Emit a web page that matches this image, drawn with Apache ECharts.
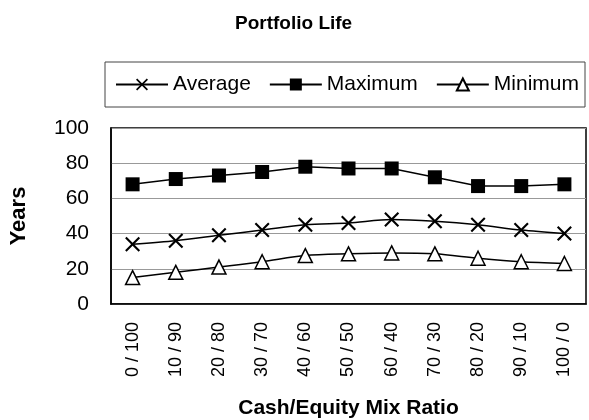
<!DOCTYPE html>
<html>
<head>
<meta charset="utf-8">
<script src="https://cdn.jsdelivr.net/npm/echarts@6/dist/echarts.min.js"></script>
<style>
  html, body { margin: 0; padding: 0; background: #fff; }
  #main { width: 589px; height: 420px; }
</style>
</head>
<body>
<div id="main"></div>
<script>
// values
var categories = ['0 / 100', '10 / 90', '20 / 80', '30 / 70', '40 / 60', '50 / 50',
                  '60 / 40', '70 / 30', '80 / 20', '90 / 10', '100 / 0'];
var average = [34, 36, 39, 42, 45, 46, 48, 47, 45, 42, 40];
var maximum = [68, 71, 73, 75, 78, 77, 77, 72, 67, 67, 68];
var minimum = [15, 18, 21, 24, 27.5, 28.5, 29, 28.5, 26, 24, 23];

var crossPath = 'path://M0,1L1,0L5,4L9,0L10,1L6,5L10,9L9,10L5,6L1,10L0,9L4,5Z';
var font = 'Arial, "Liberation Sans", sans-serif';

var myChart = echarts.init(document.getElementById('main'));

var option = {
    animation: false,
    textStyle: { fontFamily: font, color: '#000' },
    title: {
        text: 'Portfolio Life',
        left: 230,
        top: 9,
        textStyle: { fontSize: 19, fontWeight: 'bold', color: '#000', fontFamily: font }
    },
    legend: {
        left: 105,
        right: 0,
        top: 62,
        padding: [12, 6, 12, 10],
        borderColor: '#444',
        borderWidth: 1,
        itemWidth: 52,
        itemHeight: 15,
        itemGap: 18,
        textStyle: { fontSize: 21, color: '#000', fontFamily: font },
        data: ['Average', 'Maximum', 'Minimum']
    },
    grid: {
        left: 109,
        right: 3,
        top: 128,
        bottom: 113,
        show: true,
        borderColor: '#000',
        borderWidth: 1.5,
        backgroundColor: '#fff'
    },
    xAxis: {
        type: 'category',
        data: categories,
        boundaryGap: true,
        name: 'Cash/Equity Mix Ratio',
        nameLocation: 'middle',
        nameGap: 94,
        nameTextStyle: { fontSize: 21, fontWeight: 'bold', color: '#000', fontFamily: font },
        axisLine: { lineStyle: { color: '#000', width: 1.5 } },
        axisTick: { inside: true, length: 5, lineStyle: { color: '#000' } },
        axisLabel: { rotate: 90, fontSize: 18, margin: 18, color: '#000' }
    },
    yAxis: {
        type: 'value',
        min: 0,
        max: 100,
        interval: 20,
        name: 'Years',
        nameLocation: 'middle',
        nameGap: 81,
        nameTextStyle: { fontSize: 22, fontWeight: 'bold', color: '#000', fontFamily: font },
        axisLine: { show: true, lineStyle: { color: '#000', width: 1.5 } },
        axisTick: { show: false },
        axisLabel: { fontSize: 21, margin: 22, color: '#000' },
        splitLine: { lineStyle: { color: '#999', width: 1 } }
    },
    series: [
        {
            name: 'Average',
            type: 'line',
            data: average,
            smooth: 0.3,
            symbol: crossPath,
            symbolSize: 15,
            lineStyle: { color: '#000', width: 1.5 },
            itemStyle: { color: '#000' }
        },
        {
            name: 'Maximum',
            type: 'line',
            data: maximum,
            symbol: 'rect',
            symbolSize: 14,
            lineStyle: { color: '#000', width: 1.5 },
            itemStyle: { color: '#000' }
        },
        {
            name: 'Minimum',
            type: 'line',
            data: minimum,
            smooth: 0.3,
            symbol: 'triangle',
            symbolSize: 14,
            lineStyle: { color: '#000', width: 1.5 },
            itemStyle: { color: '#fff', borderColor: '#000', borderWidth: 1.5 }
        }
    ]
};

myChart.setOption(option);
</script>
</body>
</html>
